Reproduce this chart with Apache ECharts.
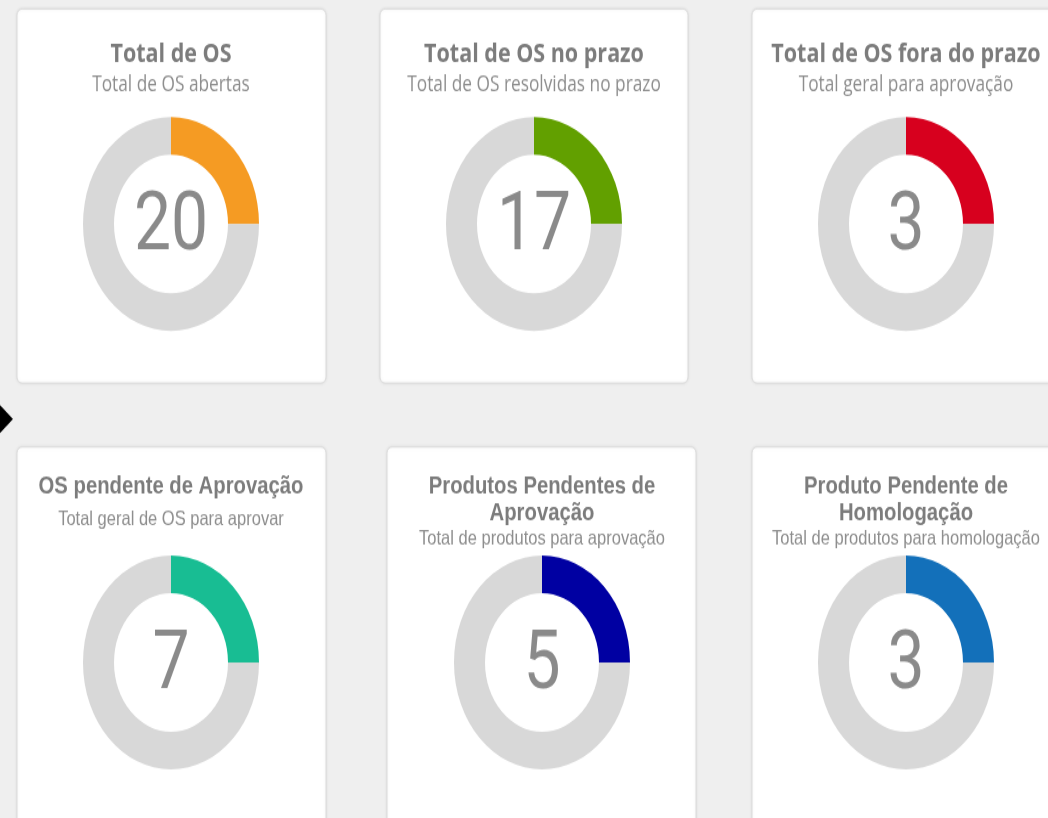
<!DOCTYPE html>
<html lang="pt-BR">
<head>
<meta charset="utf-8">
<title>Painel de OS</title>
<script src="https://cdn.jsdelivr.net/npm/echarts@6/dist/echarts.min.js"></script>
<style>
  html { margin: 0; padding: 0; background: #efefef; overflow: hidden; height: 818px; }
  body { margin: 0; padding: 0; background: #efefef; height: 818px; }
  #painel {
    width: 1048px;
    height: 673px;
    transform: scaleY(1.2155);
    transform-origin: 0 0;
  }
</style>
</head>
<body>
<div id="painel"></div>
<script>
// Indicadores do painel
const titulos = [
  ['Total de OS'],
  ['Total de OS no prazo'],
  ['Total de OS fora do prazo'],
  ['OS pendente de Aprovação'],
  ['Produtos Pendentes de', 'Aprovação'],
  ['Produto Pendente de', 'Homologação']
];
const subtitulos = [
  'Total de OS abertas',
  'Total de OS resolvidas no prazo',
  'Total geral para aprovação',
  'Total geral de OS para aprovar',
  'Total de produtos para aprovação',
  'Total de produtos para homologação'
];
const valores = [20, 17, 3, 7, 5, 3];
const restanteAnel = [60, 51, 9, 21, 15, 9];
const cores = ['#F59B23', '#62A000', '#D7001E', '#18BD93', '#0000A2', '#1370BA'];

// Layout dos cartões (coordenadas antes da escala vertical)
const cartoes = [
  { x: 17,  y: 7.4,   w: 309, h: 307.7, cx: 171, cy: 184.3 },
  { x: 380, y: 7.4,   w: 308, h: 307.7, cx: 534, cy: 184.3 },
  { x: 752, y: 7.4,   w: 330, h: 307.7, cx: 906, cy: 184.3 },
  { x: 17,  y: 367.7, w: 309, h: 400,   cx: 171, cy: 545 },
  { x: 387, y: 367.7, w: 309, h: 400,   cx: 542, cy: 545 },
  { x: 752, y: 367.7, w: 330, h: 400,   cx: 906, cy: 545 }
];

const chart = echarts.init(document.getElementById('painel'), null, { renderer: 'canvas' });

const graficos = [];
const series = [];

// seta preta na borda esquerda
graficos.push({
  type: 'polygon', z: 5,
  shape: { points: [[0, 333.2], [13, 344.7], [0, 356.2]] },
  style: { fill: '#000' }
});

cartoes.forEach((c, i) => {
  graficos.push({
    type: 'rect', z: 0,
    shape: { x: c.x, y: c.y, width: c.w, height: c.h, r: 5 },
    style: {
      fill: '#fff', stroke: '#dcdcdc', lineWidth: 1,
      shadowBlur: 3, shadowColor: 'rgba(0,0,0,0.08)'
    }
  });

  const linhaSuperior = i < 3;
  const fonteTitulo = linhaSuperior
    ? 'bold 21.5px "Open Sans", sans-serif'
    : 'bold 20.3px "Liberation Sans", Arial, sans-serif';
  const fonteSub = linhaSuperior
    ? '17.3px "Open Sans", sans-serif'
    : '16.5px "Liberation Sans", Arial, sans-serif';

  let yTitulo, ySub;
  if (linhaSuperior) { yTitulo = 45.2; ySub = 70; }
  else if (titulos[i].length === 1) { yTitulo = 400.6; ySub = 427.6; }
  else { yTitulo = 400.6; ySub = 443.6; }

  titulos[i].forEach((linha, k) => {
    graficos.push({
      type: 'text', z: 10,
      x: c.cx, y: yTitulo + k * 22,
      style: {
        text: linha, font: fonteTitulo, fill: '#7c7c7c',
        textAlign: 'center', textVerticalAlign: 'middle'
      }
    });
  });
  graficos.push({
    type: 'text', z: 10,
    x: c.cx, y: ySub,
    style: {
      text: subtitulos[i], font: fonteSub, fill: '#8e8e8e',
      textAlign: 'center', textVerticalAlign: 'middle'
    }
  });

  // número central do indicador
  graficos.push({
    type: 'text', z: 10,
    x: c.cx, y: c.cy + 4.5,
    style: {
      text: String(valores[i]), font: '400 66px Roboto, sans-serif', fill: '#8a8a8a',
      textAlign: 'center', textVerticalAlign: 'middle'
    }
  });

  series.push({
    type: 'pie',
    silent: true,
    center: [c.cx, c.cy],
    radius: [57, 88],
    startAngle: 90,
    clockwise: true,
    label: { show: false },
    labelLine: { show: false },
    emphasis: { disabled: true },
    itemStyle: { borderWidth: 0 },
    data: [
      { value: valores[i], itemStyle: { color: cores[i] } },
      { value: restanteAnel[i], itemStyle: { color: '#d8d8d8' } }
    ]
  });
});

chart.setOption({
  animation: false,
  backgroundColor: '#efefef',
  graphic: { elements: graficos },
  series: series
});
</script>
</body>
</html>
